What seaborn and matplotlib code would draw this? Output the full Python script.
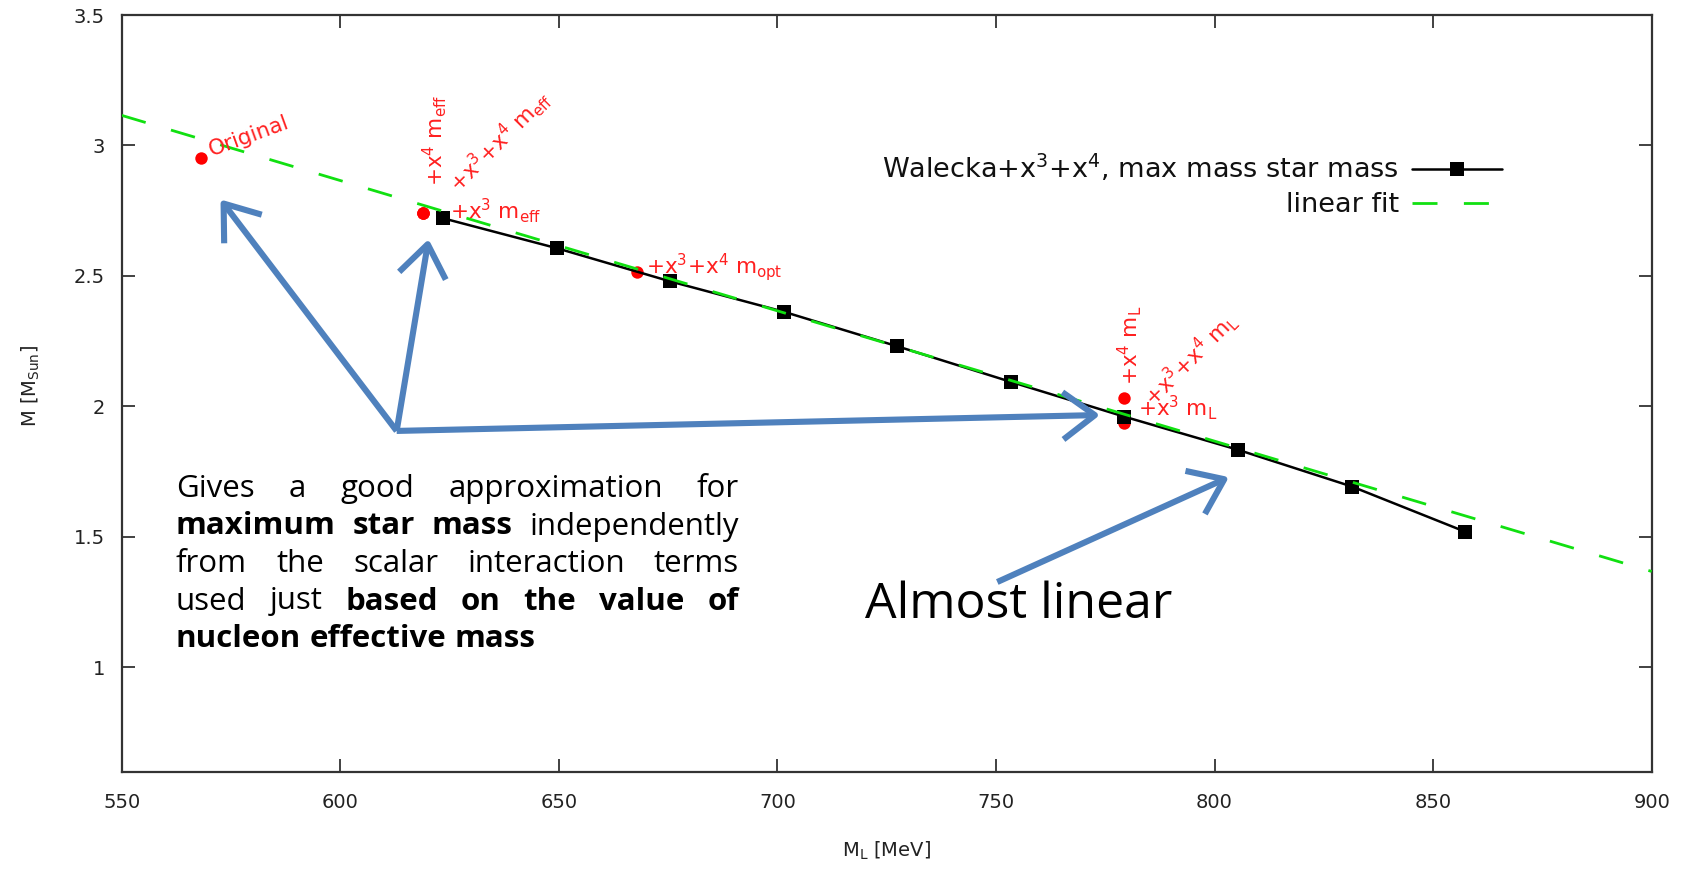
import matplotlib
matplotlib.use("Agg")
import matplotlib.pyplot as plt
import seaborn as sns
import pandas as pd

# Walecka+x^3+x^4 : maximum star mass vs nucleon effective mass
m_l = [623.5, 649.6, 675.5, 701.4, 727.3, 753.4, 779.3, 805.3, 831.4, 857.3]
m_max = [2.721, 2.606, 2.479, 2.363, 2.231, 2.094, 1.961, 1.834, 1.693, 1.520]

# linear fit parameters
fit_slope = -0.004994
fit_intercept = 5.862
fit_range = [550, 900]

# other parametrisations (red points)
variant_ml = [568.2, 618.9, 618.9, 618.9, 667.9, 779.3, 779.3, 779.3]
variant_m = [2.951, 2.740, 2.740, 2.740, 2.516, 2.031, 1.960, 1.935]
variant_labels = ["Original",
                  "+x$^3$ m$_{eff}$", "+x$^4$ m$_{eff}$", "+x$^3$+x$^4$ m$_{eff}$",
                  "+x$^3$+x$^4$ m$_{opt}$",
                  "+x$^4$ m$_L$", "+x$^3$ m$_L$", "+x$^3$+x$^4$ m$_L$"]
# label offsets (pixels) and rotation
label_style = [(8, 8, 20), (27, 3, 0), (12, 27, 90), (30, 25, 45),
               (9, 5, 0), (6, 13, 90), (14, 9, 0), (24, 22, 45)]

x_ticks = [550, 600, 650, 700, 750, 800, 850, 900]
y_ticks = [1, 1.5, 2, 2.5, 3, 3.5]

BLUE = "#4f81bd"
W, H = 1691, 869

sns.set_theme(style="white")
plt.rcParams["font.family"] = ["DejaVu Sans"]
plt.rcParams["mathtext.default"] = "regular"

fig = plt.figure(figsize=(W / 100, H / 100), dpi=100)
ax = fig.add_axes([121.7 / W, (H - 771.7) / H, 1530 / W, 756.7 / H])

df = pd.DataFrame({"ML": m_l, "M": m_max})
fit = pd.DataFrame({"ML": fit_range})
fit["M"] = fit_intercept + fit_slope * fit["ML"]

# red points first so the black squares sit on top
ax.scatter(variant_ml, variant_m, s=80, color="#ff0000", zorder=2, linewidths=0)
sns.lineplot(data=df, x="ML", y="M", ax=ax, color="black", lw=1.8, marker="s",
             markersize=9.5, markeredgewidth=0,
             label="Walecka+x$^3$+x$^4$, max mass star mass", zorder=3)
sns.lineplot(data=fit, x="ML", y="M", ax=ax, color="#11e011", lw=2.0,
             label="linear fit", zorder=4)
ax.lines[-1].set_dashes([9, 9.5])

for x, y, lab, (dx, dy, rot) in zip(variant_ml, variant_m, variant_labels, label_style):
    ax.annotate(lab, xy=(x, y), xytext=(dx, dy), textcoords="offset pixels",
                rotation=rot, rotation_mode="anchor", ha="left", va="center",
                fontsize=15.5, color="#ff2020", zorder=5)

ax.set_xlim(550, 900)
ax.set_ylim(0.6, 3.5)
ax.set_xticks(x_ticks)
ax.set_yticks(y_ticks)
ax.set_yticklabels([f"{v:g}" for v in y_ticks])
ax.tick_params(direction="in", length=9.5, width=1.3, colors="#333333",
               labelcolor="#222222", labelsize=14, top=True, right=True,
               left=True, bottom=True)
ax.tick_params(axis="y", pad=12)
ax.tick_params(axis="x", pad=15)
for sp in ax.spines.values():
    sp.set_linewidth(1.6)
    sp.set_color("#333333")

ax.set_xlabel("M$_L$ [MeV]", fontsize=14, color="#222222")
ax.set_ylabel("M [M$_{Sun}$]", fontsize=14, color="#222222")
ax.xaxis.set_label_coords(0.5, -0.09)
ax.yaxis.set_label_coords(-0.052, 0.51)

leg = ax.legend(loc="upper right", bbox_to_anchor=(0.902, 0.818), frameon=False,
                markerfirst=False, fontsize=19.5, handlelength=3.3, numpoints=1,
                borderpad=0, borderaxespad=0, labelspacing=0.3, handletextpad=0.5)
for t in leg.get_texts():
    t.set_color("#111111")

# blue callout arrows
arrows = [((612.9, 1.906), (572.6, 2.793)),
          ((612.9, 1.906), (620.2, 2.641)),
          ((612.9, 1.906), (773.8, 1.967)),
          ((750.3, 1.327), (803.3, 1.729))]
for start, tip in arrows:
    ax.annotate("", xy=tip, xytext=start,
                arrowprops=dict(arrowstyle="->,head_length=1.15,head_width=0.85",
                                mutation_scale=20, lw=4.4, color=BLUE,
                                shrinkA=0, shrinkB=0, capstyle="butt"),
                zorder=6)

ax.text(720.0, 1.189, "Almost linear", fontsize=36, family="Open Sans",
        color="black", ha="left", va="baseline", zorder=6)

# justified explanatory paragraph
box_lines = [
    [("Gives", False), ("a", False), ("good", False), ("approximation", False), ("for", False)],
    [("maximum", True), ("star", True), ("mass", True), ("independently", False)],
    [("from", False), ("the", False), ("scalar", False), ("interaction", False), ("terms", False)],
    [("used", False), ("just", False), ("based", True), ("on", True), ("the", True),
     ("value", True), ("of", True)],
    [("nucleon", True), ("effective", True), ("mass", True)],
]
box_fs = 22.5
box_left, box_right = 176, 739
first_baseline, line_step = 497, 37.5
renderer = fig.canvas.get_renderer()
for i, words in enumerate(box_lines):
    yb = H - (first_baseline + i * line_step)
    texts = [fig.text(0, yb / H, w, fontsize=box_fs, family="Open Sans",
                      fontweight="bold" if b else "normal", color="black",
                      ha="left", va="baseline") for w, b in words]
    widths = [t.get_window_extent(renderer).width for t in texts]
    if i < len(box_lines) - 1:
        gap = (box_right - box_left - sum(widths)) / (len(words) - 1)
    else:
        gap = 0.26 * box_fs * 100 / 72
    x = box_left
    for t, w in zip(texts, widths):
        t.set_x(x / W)
        x += w + gap

fig.savefig("out.png", dpi=100)
